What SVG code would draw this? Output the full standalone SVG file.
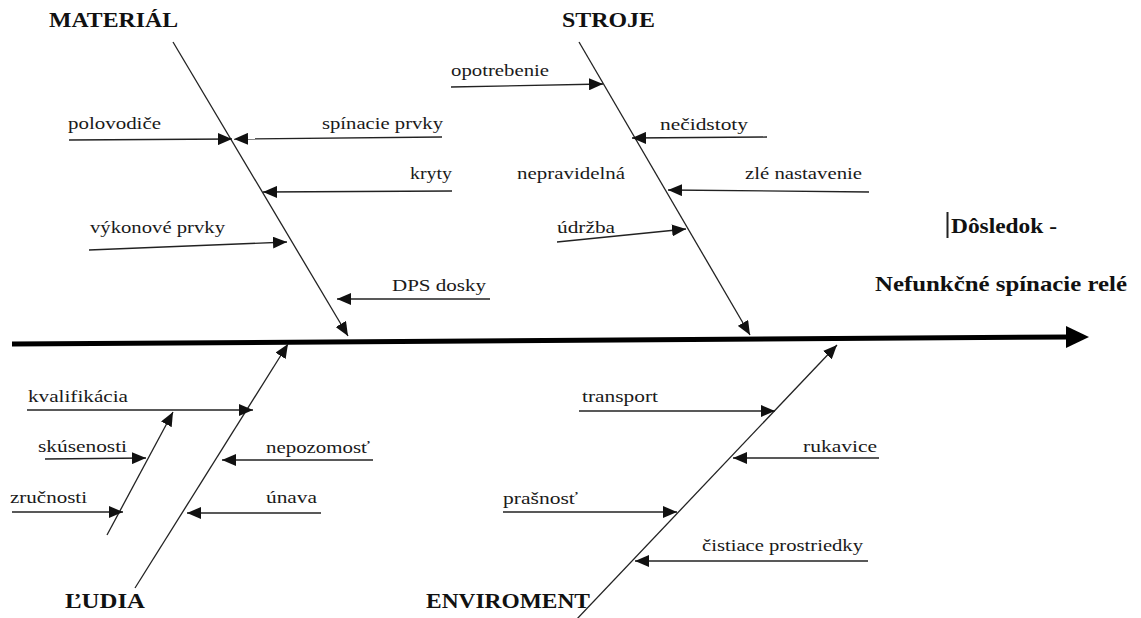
<svg xmlns="http://www.w3.org/2000/svg" width="1141" height="618" viewBox="0 0 1141 618" font-family="'Liberation Serif', serif">
<defs>
<marker id="ah" markerWidth="14" markerHeight="12" refX="14" refY="6" orient="auto" markerUnits="userSpaceOnUse"><path d="M0,0 L14,6 L0,12 z" fill="#111"/></marker>
<style>
.l{stroke:#222;stroke-width:1.3;fill:none}
.a{marker-end:url(#ah)}
.t{font-family:'Liberation Serif',serif;font-size:16px;fill:#1a1a1a}
.h{font-family:'Liberation Serif',serif;font-size:22px;font-weight:bold;fill:#111}
.r{font-family:'Liberation Serif',serif;font-size:21px;font-weight:bold;fill:#111}
</style>
</defs>
<rect width="1141" height="618" fill="#fff"/>
<g id="connectors">
<line x1="12" y1="344" x2="1070" y2="337" stroke="#000" stroke-width="5"/>
<polygon points="1066,326 1089,337 1066,348" fill="#000"/>
<line class="l a" x1="173" y1="42" x2="348" y2="336"/>
<line class="l a" x1="579" y1="42" x2="750" y2="335"/>
<line class="l a" x1="135" y1="588" x2="288" y2="344"/>
<line class="l a" x1="576" y1="620" x2="837" y2="345"/>
<line class="l a" x1="107" y1="535" x2="173" y2="412"/>
<line class="l a" x1="69" y1="140" x2="232" y2="139"/>
<line class="l a" x1="442" y1="137" x2="234" y2="139"/>
<line class="l a" x1="452" y1="191" x2="263" y2="192"/>
<line class="l a" x1="89" y1="250" x2="287" y2="242"/>
<line class="l a" x1="490" y1="299" x2="337" y2="299"/>
<line class="l a" x1="451" y1="87" x2="603" y2="84"/>
<line class="l a" x1="767" y1="137" x2="632" y2="138"/>
<line class="l a" x1="869" y1="192" x2="668" y2="190"/>
<line class="l a" x1="557" y1="242" x2="686" y2="229"/>
<line class="l a" x1="27" y1="410" x2="253" y2="410"/>
<line class="l a" x1="45" y1="459" x2="146" y2="458"/>
<line class="l a" x1="12" y1="512" x2="123" y2="512"/>
<line class="l a" x1="373" y1="460" x2="222" y2="460"/>
<line class="l a" x1="321" y1="513" x2="187" y2="513"/>
<line class="l a" x1="579" y1="411" x2="775" y2="411"/>
<line class="l a" x1="879" y1="458" x2="733" y2="458"/>
<line class="l a" x1="503" y1="512" x2="677" y2="512"/>
<line class="l a" x1="868" y1="561" x2="635" y2="561"/>
</g>
<g id="material"><text class="h" x="49" y="27" textLength="129" lengthAdjust="spacingAndGlyphs">MATERIÁL</text></g>
<g id="stroje"><text class="h" x="562" y="27" textLength="93" lengthAdjust="spacingAndGlyphs">STROJE</text></g>
<g id="ludia"><text class="h" x="65" y="608" textLength="80" lengthAdjust="spacingAndGlyphs">ĽUDIA</text></g>
<g id="enviroment"><text class="h" x="426" y="608" textLength="164" lengthAdjust="spacingAndGlyphs">ENVIROMENT</text></g>
<g id="dosledok">
<rect x="946.5" y="212" width="2" height="26" fill="#222"/>
<text class="r" x="951" y="233" textLength="106" lengthAdjust="spacingAndGlyphs">Dôsledok -</text>
<text class="r" x="875" y="291" textLength="252" lengthAdjust="spacingAndGlyphs">Nefunkčné  spínacie relé</text>
</g>
<g id="polovodice"><text class="t" x="68" y="129" textLength="93" lengthAdjust="spacingAndGlyphs">polovodiče</text></g>
<g id="spinacie-prvky"><text class="t" x="322" y="129" textLength="121" lengthAdjust="spacingAndGlyphs">spínacie prvky</text></g>
<g id="kryty"><text class="t" x="410" y="179" textLength="42" lengthAdjust="spacingAndGlyphs">kryty</text></g>
<g id="vykonove-prvky"><text class="t" x="90" y="233" textLength="135" lengthAdjust="spacingAndGlyphs">výkonové prvky</text></g>
<g id="dps-dosky"><text class="t" x="392" y="291" textLength="94" lengthAdjust="spacingAndGlyphs">DPS dosky</text></g>
<g id="opotrebenie"><text class="t" x="451" y="76" textLength="98" lengthAdjust="spacingAndGlyphs">opotrebenie</text></g>
<g id="necidstoty"><text class="t" x="660" y="130" textLength="88" lengthAdjust="spacingAndGlyphs">nečidstoty</text></g>
<g id="nepravidelna-udrzba">
<text class="t" x="517" y="179" textLength="108" lengthAdjust="spacingAndGlyphs">nepravidelná</text>
<text class="t" x="557" y="233" textLength="58" lengthAdjust="spacingAndGlyphs">údržba</text>
</g>
<g id="zle-nastavenie"><text class="t" x="745" y="179" textLength="117" lengthAdjust="spacingAndGlyphs">zlé nastavenie</text></g>
<g id="kvalifikacia"><text class="t" x="28" y="402" textLength="100" lengthAdjust="spacingAndGlyphs">kvalifikácia</text></g>
<g id="skusenosti"><text class="t" x="38" y="452" textLength="89" lengthAdjust="spacingAndGlyphs">skúsenosti</text></g>
<g id="zrucnosti"><text class="t" x="10" y="503" textLength="77" lengthAdjust="spacingAndGlyphs">zručnosti</text></g>
<g id="nepozomost"><text class="t" x="266" y="453" textLength="104" lengthAdjust="spacingAndGlyphs">nepozomosť</text></g>
<g id="unava"><text class="t" x="266" y="503" textLength="51" lengthAdjust="spacingAndGlyphs">únava</text></g>
<g id="transport"><text class="t" x="582" y="402" textLength="76" lengthAdjust="spacingAndGlyphs">transport</text></g>
<g id="rukavice"><text class="t" x="803" y="452" textLength="74" lengthAdjust="spacingAndGlyphs">rukavice</text></g>
<g id="prasnost"><text class="t" x="503" y="504" textLength="75" lengthAdjust="spacingAndGlyphs">prašnosť</text></g>
<g id="cistiace"><text class="t" x="702" y="551" textLength="161" lengthAdjust="spacingAndGlyphs">čistiace prostriedky</text></g>
</svg>
